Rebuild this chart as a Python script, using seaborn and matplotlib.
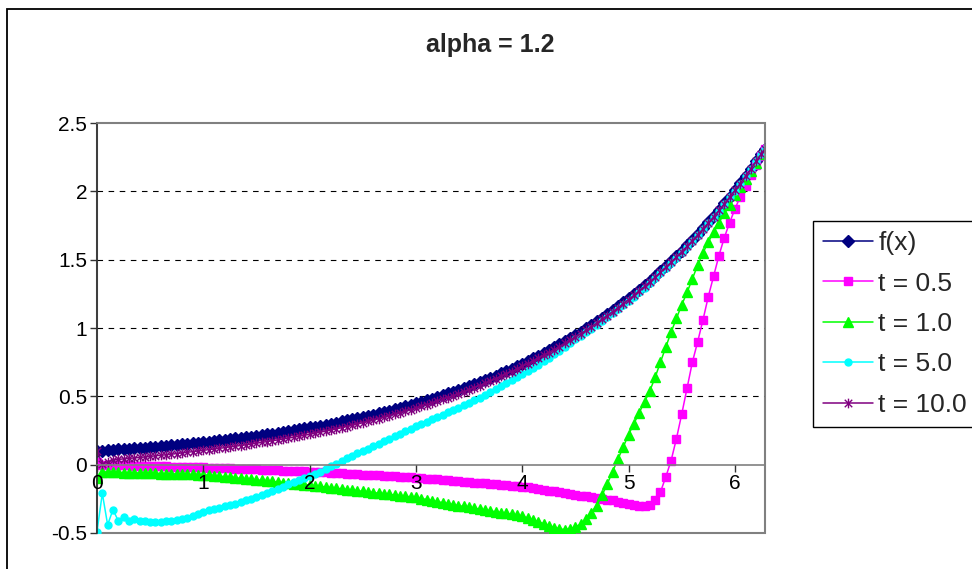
import numpy as np
import pandas as pd
import seaborn as sns
import matplotlib.pyplot as plt
from matplotlib.patches import Rectangle
from matplotlib.path import Path

# x grid (0 .. 2*pi)
x_vals = [
    0.00, 0.05, 0.10, 0.15, 0.20, 0.25, 0.30, 0.35, 0.40, 0.45,
    0.50, 0.55, 0.60, 0.65, 0.70, 0.75, 0.80, 0.85, 0.90, 0.95,
    1.00, 1.05, 1.10, 1.15, 1.20, 1.25, 1.30, 1.35, 1.40, 1.45,
    1.50, 1.55, 1.60, 1.65, 1.70, 1.75, 1.80, 1.85, 1.90, 1.95,
    2.00, 2.05, 2.10, 2.15, 2.20, 2.25, 2.30, 2.35, 2.40, 2.45,
    2.50, 2.55, 2.60, 2.65, 2.70, 2.75, 2.80, 2.85, 2.90, 2.95,
    3.00, 3.05, 3.10, 3.15, 3.20, 3.25, 3.30, 3.35, 3.40, 3.45,
    3.50, 3.55, 3.60, 3.65, 3.70, 3.75, 3.80, 3.85, 3.90, 3.95,
    4.00, 4.05, 4.10, 4.15, 4.20, 4.25, 4.30, 4.35, 4.40, 4.45,
    4.50, 4.55, 4.60, 4.65, 4.70, 4.75, 4.80, 4.85, 4.90, 4.95,
    5.00, 5.05, 5.10, 5.15, 5.20, 5.25, 5.30, 5.35, 5.40, 5.45,
    5.50, 5.55, 5.60, 5.65, 5.70, 5.75, 5.80, 5.85, 5.90, 5.95,
    6.00, 6.05, 6.10, 6.15, 6.20, 6.25, 6.28]

f_vals = [
    0.100, 0.103, 0.105, 0.108, 0.111, 0.113, 0.116, 0.119, 0.122, 0.125,
    0.128, 0.132, 0.135, 0.138, 0.142, 0.145, 0.149, 0.153, 0.157, 0.161,
    0.165, 0.169, 0.173, 0.178, 0.182, 0.187, 0.192, 0.196, 0.201, 0.206,
    0.212, 0.217, 0.223, 0.228, 0.234, 0.240, 0.246, 0.252, 0.259, 0.265,
    0.272, 0.279, 0.286, 0.293, 0.300, 0.308, 0.316, 0.324, 0.332, 0.340,
    0.349, 0.358, 0.367, 0.376, 0.386, 0.396, 0.406, 0.416, 0.426, 0.437,
    0.448, 0.460, 0.471, 0.483, 0.495, 0.508, 0.521, 0.534, 0.547, 0.561,
    0.575, 0.590, 0.605, 0.620, 0.636, 0.652, 0.669, 0.686, 0.703, 0.721,
    0.739, 0.758, 0.777, 0.796, 0.817, 0.837, 0.858, 0.880, 0.903, 0.925,
    0.949, 0.973, 0.997, 1.023, 1.049, 1.075, 1.102, 1.130, 1.159, 1.188,
    1.218, 1.249, 1.281, 1.313, 1.346, 1.380, 1.415, 1.451, 1.488, 1.526,
    1.564, 1.604, 1.644, 1.686, 1.729, 1.773, 1.817, 1.863, 1.911, 1.959,
    2.009, 2.059, 2.112, 2.165, 2.220, 2.276, 2.310]

t05_vals = [
    0.020, -0.001, -0.002, -0.003, -0.004, -0.005, -0.006, -0.007, -0.008, -0.009,
    -0.010, -0.011, -0.012, -0.013, -0.014, -0.015, -0.016, -0.017, -0.018, -0.019,
    -0.020, -0.022, -0.023, -0.025, -0.026, -0.028, -0.029, -0.031, -0.032, -0.034,
    -0.035, -0.037, -0.038, -0.040, -0.041, -0.043, -0.044, -0.046, -0.047, -0.049,
    -0.050, -0.052, -0.055, -0.057, -0.059, -0.061, -0.064, -0.066, -0.068, -0.070,
    -0.073, -0.075, -0.077, -0.079, -0.082, -0.084, -0.086, -0.088, -0.091, -0.093,
    -0.095, -0.098, -0.102, -0.105, -0.108, -0.111, -0.115, -0.118, -0.121, -0.124,
    -0.128, -0.131, -0.134, -0.137, -0.141, -0.144, -0.147, -0.150, -0.154, -0.157,
    -0.160, -0.166, -0.172, -0.178, -0.184, -0.190, -0.196, -0.202, -0.208, -0.214,
    -0.220, -0.226, -0.232, -0.238, -0.244, -0.250, -0.256, -0.262, -0.272, -0.282,
    -0.290, -0.296, -0.300, -0.300, -0.293, -0.255, -0.200, -0.090, 0.030, 0.190,
    0.370, 0.560, 0.750, 0.900, 1.060, 1.230, 1.380, 1.530, 1.660, 1.770,
    1.870, 1.960, 2.040, 2.120, 2.190, 2.260, 2.310]

t10_vals = [
    -0.100, -0.050, -0.055, -0.056, -0.057, -0.058, -0.059, -0.060, -0.061, -0.062,
    -0.063, -0.064, -0.065, -0.066, -0.067, -0.068, -0.069, -0.070, -0.071, -0.072,
    -0.073, -0.077, -0.081, -0.085, -0.088, -0.092, -0.096, -0.100, -0.104, -0.108,
    -0.112, -0.115, -0.119, -0.123, -0.127, -0.131, -0.135, -0.138, -0.142, -0.146,
    -0.150, -0.155, -0.159, -0.164, -0.168, -0.173, -0.177, -0.182, -0.186, -0.191,
    -0.195, -0.200, -0.204, -0.209, -0.213, -0.218, -0.222, -0.227, -0.231, -0.236,
    -0.240, -0.248, -0.255, -0.263, -0.270, -0.278, -0.285, -0.293, -0.300, -0.306,
    -0.313, -0.319, -0.325, -0.332, -0.338, -0.345, -0.351, -0.357, -0.364, -0.370,
    -0.377, -0.390, -0.404, -0.418, -0.432, -0.446, -0.460, -0.470, -0.475, -0.470,
    -0.455, -0.435, -0.400, -0.350, -0.300, -0.225, -0.140, -0.050, 0.040, 0.130,
    0.220, 0.300, 0.380, 0.460, 0.540, 0.640, 0.750, 0.860, 0.970, 1.070,
    1.170, 1.260, 1.360, 1.460, 1.550, 1.630, 1.700, 1.770, 1.840, 1.900,
    1.970, 2.030, 2.090, 2.150, 2.210, 2.270, 2.310]

t50_vals = [
    -0.490, -0.210, -0.440, -0.330, -0.410, -0.380, -0.410, -0.400, -0.415, -0.410,
    -0.420, -0.420, -0.420, -0.415, -0.410, -0.405, -0.400, -0.390, -0.375, -0.360,
    -0.345, -0.335, -0.325, -0.315, -0.305, -0.295, -0.285, -0.270, -0.260, -0.250,
    -0.235, -0.220, -0.205, -0.190, -0.175, -0.160, -0.145, -0.130, -0.115, -0.100,
    -0.085, -0.068, -0.051, -0.032, -0.012, 0.008, 0.027, 0.046, 0.064, 0.082,
    0.100, 0.118, 0.136, 0.154, 0.172, 0.190, 0.208, 0.226, 0.244, 0.262,
    0.280, 0.297, 0.314, 0.331, 0.348, 0.365, 0.382, 0.399, 0.416, 0.433,
    0.450, 0.470, 0.491, 0.512, 0.533, 0.554, 0.575, 0.596, 0.617, 0.638,
    0.660, 0.683, 0.707, 0.731, 0.757, 0.782, 0.808, 0.835, 0.863, 0.890,
    0.919, 0.944, 0.969, 0.996, 1.023, 1.050, 1.078, 1.107, 1.137, 1.167,
    1.198, 1.230, 1.263, 1.296, 1.330, 1.365, 1.401, 1.438, 1.476, 1.515,
    1.554, 1.595, 1.636, 1.678, 1.722, 1.767, 1.812, 1.858, 1.907, 1.956,
    2.006, 2.057, 2.111, 2.164, 2.220, 2.276, 2.310]

t100_vals = [
    0.100, 0.005, 0.020, 0.033, 0.039, 0.042, 0.046, 0.049, 0.053, 0.056,
    0.060, 0.065, 0.069, 0.072, 0.077, 0.081, 0.086, 0.091, 0.095, 0.100,
    0.105, 0.110, 0.114, 0.120, 0.124, 0.130, 0.135, 0.140, 0.145, 0.151,
    0.157, 0.163, 0.169, 0.175, 0.181, 0.188, 0.194, 0.201, 0.208, 0.215,
    0.222, 0.230, 0.238, 0.245, 0.253, 0.262, 0.270, 0.279, 0.288, 0.297,
    0.307, 0.316, 0.326, 0.336, 0.347, 0.357, 0.368, 0.379, 0.390, 0.401,
    0.413, 0.426, 0.438, 0.450, 0.463, 0.477, 0.490, 0.504, 0.518, 0.533,
    0.548, 0.563, 0.579, 0.595, 0.611, 0.628, 0.646, 0.664, 0.681, 0.700,
    0.719, 0.738, 0.758, 0.778, 0.799, 0.820, 0.841, 0.864, 0.887, 0.910,
    0.934, 0.958, 0.983, 1.009, 1.036, 1.063, 1.090, 1.119, 1.148, 1.177,
    1.208, 1.239, 1.272, 1.304, 1.338, 1.372, 1.407, 1.444, 1.481, 1.520,
    1.558, 1.598, 1.639, 1.681, 1.725, 1.769, 1.813, 1.860, 1.908, 1.957,
    2.007, 2.057, 2.111, 2.164, 2.220, 2.276, 2.310]

series_labels = ['f(x)', 't = 0.5', 't = 1.0', 't = 5.0', 't = 10.0']
x_ticks = [0, 1, 2, 3, 4, 5, 6]
y_ticks = [-0.5, 0, 0.5, 1, 1.5, 2, 2.5]
y_tick_labels = ['-0.5', '0', '0.5', '1', '1.5', '2', '2.5']

# Excel-like asterisk marker (X plus vertical bar)
star = Path([(-1, -1), (1, 1), (-1, 1), (1, -1), (0, -1.3), (0, 1.3)],
            [Path.MOVETO, Path.LINETO, Path.MOVETO, Path.LINETO, Path.MOVETO, Path.LINETO])

styles = [
    dict(color='#000080', marker='D', markersize=6),
    dict(color='#FF00FF', marker='s', markersize=5.5),
    dict(color='#00FF00', marker='^', markersize=7.5),
    dict(color='#00FFFF', marker='o', markersize=5),
    dict(color='#800080', marker=star, markersize=7),
]

sns.set_theme(style='white')
plt.rcParams['font.family'] = ['Liberation Sans', 'DejaVu Sans']

fig = plt.figure(figsize=(9.72, 5.69), dpi=100)
ax = fig.add_axes([97 / 972, 1 - 533 / 569, (765 - 97) / 972, (533 - 123) / 569])

all_vals = [f_vals, t05_vals, t10_vals, t50_vals, t100_vals]
for label, vals, st in zip(series_labels, all_vals, styles):
    sns.lineplot(x=x_vals, y=vals, ax=ax, label=label, sort=False, errorbar=None,
                 color=st['color'], marker=st['marker'], markersize=st['markersize'],
                 markeredgecolor=st['color'], markeredgewidth=1.0, linewidth=1.1)

ax.set_xlim(0, 6.2832)
ax.set_ylim(-0.5, 2.5)
ax.set_xticks(x_ticks)
ax.set_xticklabels([str(v) for v in x_ticks])
ax.set_yticks(y_ticks)
ax.set_yticklabels(y_tick_labels)
ax.set_xlabel('')
ax.set_ylabel('')

# x axis crosses at y = 0, like Excel
ax.spines['bottom'].set_position(('data', 0))
ax.spines['bottom'].set_color('#808080')
ax.spines['bottom'].set_linewidth(1.2)
for side in ['top', 'right']:
    ax.spines[side].set_color('#808080')
    ax.spines[side].set_linewidth(1.2)
ax.spines['left'].set_color('#333333')
ax.spines['left'].set_linewidth(1.2)
ax.patch.set_edgecolor('#808080')
ax.patch.set_linewidth(1.5)

ax.tick_params(axis='both', direction='out', length=5, width=1, color='#333333',
               labelsize=15, pad=2, left=True, bottom=True, labelcolor='black')

ax.grid(axis='y', color='black', linestyle=(0, (5, 5)), linewidth=0.8)
ax.grid(axis='x', visible=False)
ax.set_axisbelow(True)
ax.xaxis.set_zorder(3)  # category labels sit on top of the curves
grid_lines = ax.get_ygridlines()
grid_lines[0].set_visible(False)
grid_lines[1].set_visible(False)
grid_lines[-1].set_visible(False)

leg = ax.legend(loc='upper left', bbox_to_anchor=(813 / 972, 1 - 221 / 569),
                bbox_transform=fig.transFigure, frameon=True, fancybox=False,
                edgecolor='black', fontsize=19, handlelength=1.9, handletextpad=0.19,
                labelspacing=0.62, borderpad=0.39, borderaxespad=0, framealpha=1)
leg.get_frame().set_linewidth(1.0)

fig.text(490 / 972, 1 - 45 / 569, 'alpha = 1.2', ha='center', va='center',
         fontsize=18, fontweight='bold')

# outer chart border
fig.add_artist(Rectangle((7 / 972, -0.05), 1.0, 1 - 9 / 569 + 0.05, transform=fig.transFigure,
                         fill=False, edgecolor='black', linewidth=1.3))

fig.savefig('out.png', dpi=100)
